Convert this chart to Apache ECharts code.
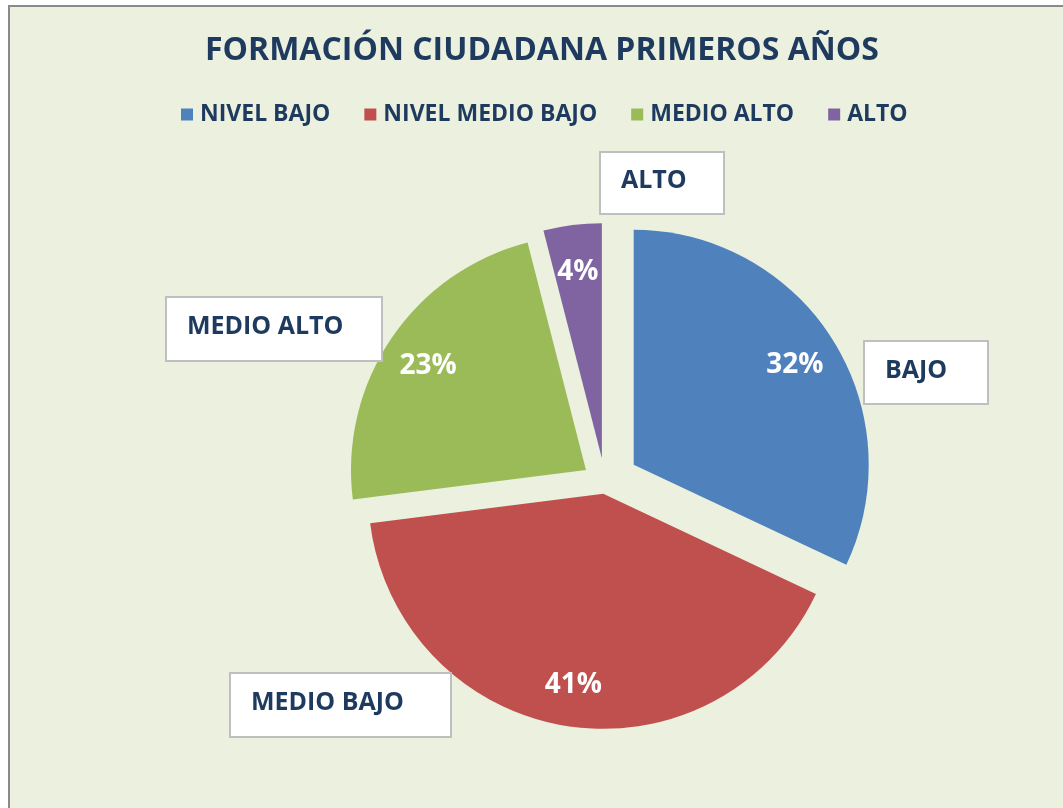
<!DOCTYPE html>
<html>
<head>
<meta charset="utf-8">
<title>Formación ciudadana primeros años</title>
<script src="https://cdn.jsdelivr.net/npm/echarts@6/dist/echarts.min.js"></script>
<style>
    html, body { margin: 0; padding: 0; background: #ffffff; overflow: hidden; }
    #frame {
        position: absolute; left: 8px; top: 5px; width: 1100px; height: 850px;
        background: #ebf1de; border-left: 2px solid #8a8a8a; border-top: 2px solid #8a8a8a;
    }
    #chart { position: absolute; left: 0; top: 0; width: 1063px; height: 808px; }
</style>
</head>
<body>
<div id="frame"></div>
<div id="chart"></div>
<script>
// 数据
const categories = ['NIVEL BAJO', 'NIVEL MEDIO BAJO', 'MEDIO ALTO', 'ALTO'];
const boxNames = ['BAJO', 'MEDIO BAJO', 'MEDIO ALTO', 'ALTO'];
const values = [32, 41, 23, 4];

// 样式 / 布局
const colors = ['#4f81bd', '#c0504d', '#9bbb59', '#8064a2'];
const navy = '#1f3a5f';
const font = 'Open Sans';
const pieCenter = [605, 483];
const pieRadius = 235;
const explode = [34, 11, 23, 25];     // 每块分离距离
const labelRatio = 0.80;              // 百分比标签所在半径比例
// 名称框 [x, y, w, h]
const boxRects = [[864, 341, 124, 63], [230, 673, 221, 64], [166, 297, 216, 64], [600, 152, 124, 62]];

const chart = echarts.init(document.getElementById('chart'));

// 计算每块的中线角度
const total = values.reduce(function(a, b) { return a + b; }, 0);
let acc = 0;
const mids = values.map(function(v) {
    const m = (acc + v / 2) / total * 2 * Math.PI;
    acc += v;
    return m;
});

const series = values.map(function(v, i) {
    const dx = Math.sin(mids[i]), dy = -Math.cos(mids[i]);
    const shift = (labelRatio - 0.5) * pieRadius;
    return {
        type: 'pie',
        radius: pieRadius,
        center: [pieCenter[0] + explode[i] * dx, pieCenter[1] + explode[i] * dy],
        startAngle: 90,
        clockwise: true,
        silent: true,
        animation: false,
        avoidLabelOverlap: false,
        labelLine: { show: false },
        label: { show: false },
        labelLayout: function(params) {
            if (params.dataIndex !== i) return {};
            return { dx: shift * dx, dy: shift * dy + 3 };
        },
        data: values.map(function(val, j) {
            return {
                name: categories[j],
                value: val,
                itemStyle: { color: j === i ? colors[j] : 'transparent' },
                label: {
                    show: j === i,
                    position: 'inside',
                    formatter: '{d}%',
                    color: '#ffffff',
                    fontFamily: font,
                    fontWeight: 'bold',
                    fontSize: 28
                }
            };
        })
    };
});

// 名称框
const graphics = [];
boxNames.forEach(function(name, i) {
    const r = boxRects[i];
    graphics.push({
        type: 'rect',
        shape: { x: r[0], y: r[1], width: r[2], height: r[3] },
        style: { fill: '#ffffff', stroke: '#bfbfbf', lineWidth: 2 },
        z: 10
    });
    graphics.push({
        type: 'text',
        x: r[0] + 21,
        y: r[1] + r[3] / 2 - 2,
        style: {
            text: name,
            fill: navy,
            font: 'bold 25px "' + font + '"',
            verticalAlign: 'middle',
            align: 'left'
        },
        z: 11
    });
});

const option = {
    backgroundColor: 'transparent',
    animation: false,
    title: {
        text: 'FORMACIÓN CIUDADANA PRIMEROS AÑOS',
        left: 542,
        textAlign: 'center',
        top: 35,
        padding: 0,
        textStyle: { color: navy, fontFamily: font, fontWeight: 'bold', fontSize: 32 }
    },
    legend: {
        left: 181,
        top: 103,
        padding: 0,
        icon: 'rect',
        itemWidth: 12,
        itemHeight: 12,
        itemGap: 34,
        selectedMode: false,
        textStyle: { color: navy, fontFamily: font, fontWeight: 'bold', fontSize: 23, padding: [0, 0, 0, 2] },
        data: categories.map(function(c, i) {
            return { name: c, itemStyle: { color: colors[i] } };
        })
    },
    graphic: graphics,
    series: series
};

chart.setOption(option);
</script>
</body>
</html>
